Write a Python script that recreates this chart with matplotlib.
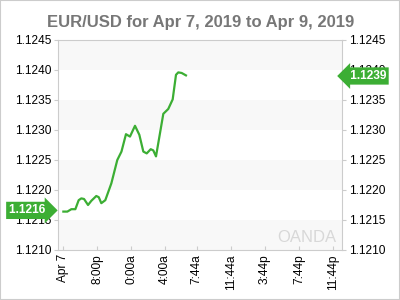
import matplotlib.pyplot as plt
from matplotlib.patches import Rectangle

# hours since Apr 7 00:00 and EUR/USD rate
hours = [16.04, 16.51, 16.98, 17.45, 17.84, 18.15, 18.47, 18.94, 19.33, 19.91,
         20.20, 20.50, 20.97, 21.68, 22.38, 22.87, 23.40, 23.87, 24.46, 24.97,
         25.44, 25.84, 26.31, 26.61, 26.93, 27.79, 28.37, 28.89, 29.28, 29.55,
         29.95, 30.45]
rate = [1.12164, 1.12164, 1.12168, 1.12168, 1.12183, 1.12186, 1.12185, 1.12175,
        1.12182, 1.12190, 1.12188, 1.12178, 1.12183, 1.12211, 1.12250, 1.12264,
        1.12293, 1.12289, 1.12307, 1.12292, 1.12264, 1.12261, 1.12268, 1.12266,
        1.12256, 1.12327, 1.12335, 1.12351, 1.12392, 1.12396, 1.12395, 1.12391]

xtick_pos = [16, 20, 24, 28, 31.73, 35.73, 39.73, 43.73, 47.73]
xtick_labels = ['Apr 7', '8:00p', '0:00a', '4:00a', '7:44a', '11:44a', '3:44p', '7:44p', '11:44p']
yticks = [1.1210, 1.1215, 1.1220, 1.1225, 1.1230, 1.1235, 1.1240, 1.1245]
first_val = 1.1216
last_val = 1.1239

green = '#3cae34'
plt.rcParams['font.family'] = ['Liberation Sans', 'DejaVu Sans']

fig = plt.figure(figsize=(4, 3), dpi=100)
fig.patches.append(Rectangle((0, 0), 1, 1, transform=fig.transFigure, fill=False,
                             edgecolor='#cccccc', lw=1.5))
ax = fig.add_axes([0.145, 0.1667, 0.711, 0.70])

ax.set_xlim(15.41, 48.84)
ax.set_ylim(1.1210, 1.1245)

# alternating bands
for i in range(len(yticks) - 1):
    if i % 2 == 0:
        ax.axhspan(yticks[i], yticks[i + 1], color='#f8f8f8', lw=0, zorder=0)

ax.plot(hours, rate, color=green, lw=1.6, zorder=3)

for s in ax.spines.values():
    s.set_color('#cccccc')

ax.set_yticks(yticks)
ax.set_yticklabels(['%.4f' % v for v in yticks])
ax.set_xticks(xtick_pos)
ax.set_xticklabels(xtick_labels, rotation=90)
ax.tick_params(axis='both', labelsize=8.6, colors='#cccccc', labelcolor='black', length=3)
ax.tick_params(axis='y', left=True, right=True, labelleft=True, labelright=True, pad=2)
ax.tick_params(axis='x', direction='in', pad=3)

ax.set_title('EUR/USD for Apr 7, 2019 to Apr 9, 2019', fontsize=12, fontweight='bold',
             color='#777777', pad=9)

# value tags
ax.annotate('%.4f ' % first_val, xy=(15.41, 1.12166), xycoords='data',
            xytext=(-7, 0), textcoords='offset points', ha='right', va='center',
            fontsize=8.6, fontweight='bold', color='white',
            bbox=dict(boxstyle='rarrow,pad=0.22', fc=green, ec='none'),
            annotation_clip=False, zorder=5)
ax.annotate(' %.4f' % last_val, xy=(48.84, last_val), xycoords='data',
            xytext=(3, 0), textcoords='offset points', ha='left', va='center',
            fontsize=8.6, fontweight='bold', color='white',
            bbox=dict(boxstyle='larrow,pad=0.22', fc=green, ec='none'),
            annotation_clip=False, zorder=5)

# watermark
ax.text(0.98, 0.06, 'OANDA', transform=ax.transAxes, ha='right', va='center',
        fontsize=12, color='#d8d8d8', zorder=1)

fig.savefig('out.png', dpi=100)
